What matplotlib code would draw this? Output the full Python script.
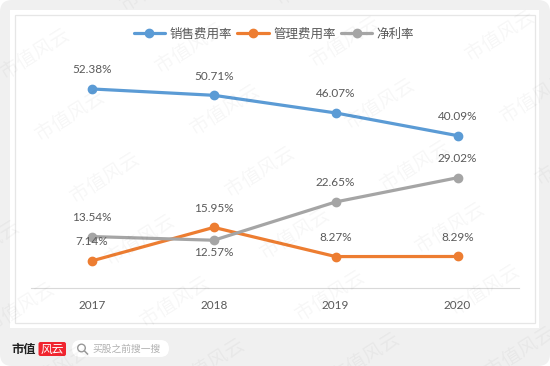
import matplotlib
matplotlib.use('Agg')
import matplotlib.pyplot as plt
from matplotlib.patches import FancyBboxPatch, Rectangle, Circle

plt.rcParams['font.family'] = ['Lato', 'Noto Sans CJK SC', 'DejaVu Sans']

years = ['2017', '2018', '2019', '2020']
selling = [52.38, 50.71, 46.07, 40.09]
admin = [7.14, 15.95, 8.27, 8.29]
net = [13.54, 12.57, 22.65, 29.02]

W, H = 550, 366
TXT = '#595959'

fig = plt.figure(figsize=(5.5, 3.66), dpi=100, facecolor='white')

# page furniture, in pixel coordinates
bg = fig.add_axes([0, 0, 1, 1], zorder=0)
bg.set_xlim(0, W)
bg.set_ylim(H, 0)
bg.axis('off')
bg.add_patch(FancyBboxPatch((0, 0), W, H, boxstyle='round,pad=0,rounding_size=12',
                            fc='#f0f0f0', ec='none', clip_on=False))
bg.add_patch(Rectangle((10, 10), 529, 318, fc='white', ec='none'))
bg.add_patch(Rectangle((15, 14.5), 520, 308.5, fc='white', ec='#e6e6e6', lw=0.9))

# logo and search box
bg.text(11, 349.5, '市值', fontsize=8.8, fontweight='bold', color='#222222', va='center', ha='left')
bg.add_patch(FancyBboxPatch((38.5, 342), 27.5, 14, boxstyle='round,pad=0,rounding_size=2', fc='#f0252f', ec='none'))
bg.text(52, 349, '风云', fontsize=8.5, color='white', va='center', ha='center', style='italic')
bg.add_patch(FancyBboxPatch((72, 340), 97, 17, boxstyle='round,pad=0,rounding_size=8.5', fc='white', ec='none'))
bg.add_patch(Circle((81.5, 348), 3.8, fc='none', ec='#999999', lw=1))
bg.plot([84.5, 87.5], [351, 354], color='#999999', lw=1.1)
bg.text(92, 349, '买股之前搜一搜', fontsize=7, color='#b0b0b0', va='center', ha='left')

# chart: 0 sits on y=288 px, 3.8 px per percentage point
ax = fig.add_axes([31 / W, 1 - 288 / H, 487.5 / W, 228 / H], zorder=1)
ax.patch.set_alpha(0)
x = range(len(years))
series = [('销售费用率', selling, '#5b9bd5'), ('管理费用率', admin, '#ed7d31'), ('净利率', net, '#a5a5a5')]
for name, vals, col in series:
    ax.plot(x, vals, color=col, lw=2.3, marker='o', ms=6, label=name, solid_capstyle='round')
    for i, v in enumerate(vals):
        off = -8.6 if (name == '净利率' and i == 1) else 13.7
        ax.annotate(f'{v:.2f}%', (i, v), xytext=(0, off), textcoords='offset points',
                    ha='center', va='center', fontsize=8.5, color=TXT)

ax.set_xlim(-0.5, 3.5)
ax.set_ylim(0, 60)
ax.set_xticks(list(x))
ax.set_xticklabels(years, fontsize=8.5, color=TXT)
ax.set_yticks([])
ax.tick_params(axis='x', length=0, pad=8.5)
for s in ['top', 'left', 'right']:
    ax.spines[s].set_visible(False)
ax.spines['bottom'].set_color('#d9d9d9')
ax.spines['bottom'].set_linewidth(0.8)

fig.legend(loc='center', bbox_to_anchor=(274 / W, 1 - 33.5 / H), ncol=3, frameon=False, fontsize=9,
           labelcolor=TXT, handlelength=2.5, handletextpad=0.35, columnspacing=0.45, borderpad=0)

# watermark over everything
wm = fig.add_axes([0, 0, 1, 1], zorder=2)
wm.set_xlim(0, W)
wm.set_ylim(H, 0)
wm.axis('off')
for j in range(-2, 7):
    for i in range(-2, 5):
        px = 35 + i * 155 + j * 35
        py = 53 - i * 6 + j * 62
        if -40 < px < W + 40 and -30 < py < H + 30:
            wm.text(px, py, '市值风云', fontsize=14, color='black', alpha=0.035, rotation=32,
                    ha='center', va='center', rotation_mode='anchor', clip_on=True)

fig.savefig('out.png', dpi=100, facecolor='white')
